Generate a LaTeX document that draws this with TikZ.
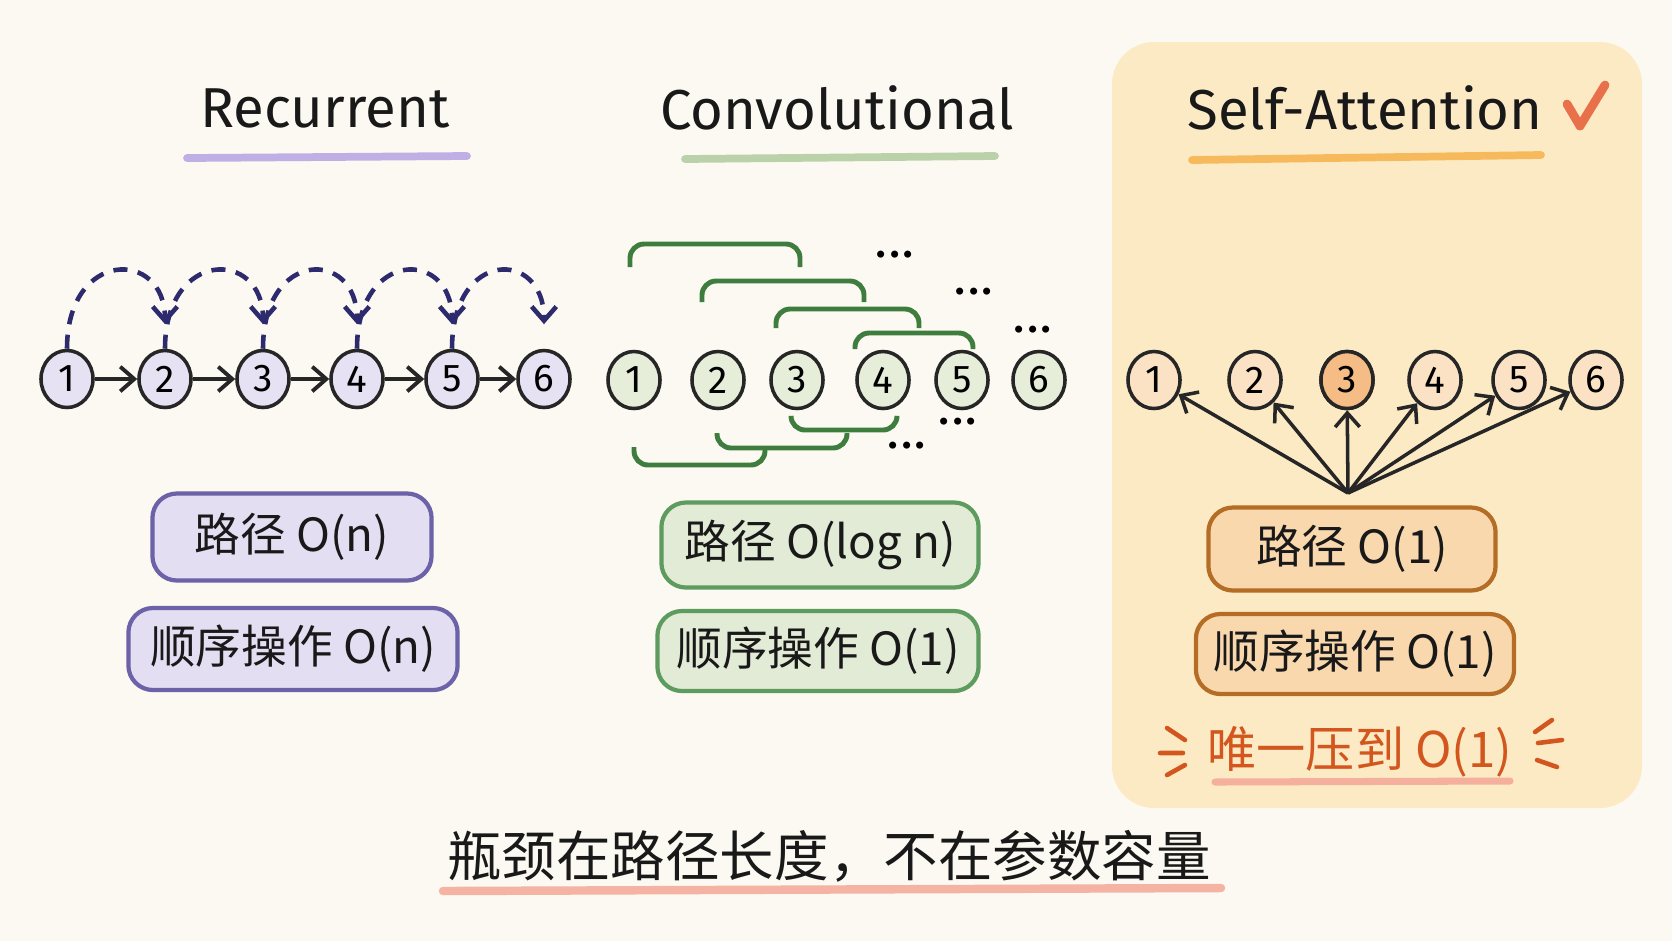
\documentclass[tikz,border=0pt]{standalone}
\usepackage{fontspec}
\setmainfont{Fira Sans}
\newfontfamily\cjk{Noto Sans CJK SC}
\usetikzlibrary{arrows.meta,shapes.geometric}

\definecolor{bgc}{HTML}{FBF9F1}
\definecolor{panelc}{HTML}{FCEAC5}
\definecolor{rnnfill}{HTML}{E7E1F4}
\definecolor{rnnbox}{HTML}{E4DEF3}
\definecolor{rnnline}{HTML}{6B62A8}
\definecolor{navy}{HTML}{2E2A6E}
\definecolor{cnnfill}{HTML}{E6EDD8}
\definecolor{cnnbox}{HTML}{E2EBD5}
\definecolor{cnnline}{HTML}{5E9B5E}
\definecolor{bracketc}{HTML}{3E7D3E}
\definecolor{safill}{HTML}{FCE2C4}
\definecolor{sahot}{HTML}{F6BC85}
\definecolor{sabox}{HTML}{F9D8AE}
\definecolor{saline}{HTML}{B56C25}
\definecolor{redtext}{HTML}{D2561E}
\definecolor{checkc}{HTML}{E8704A}
\definecolor{ulpurple}{HTML}{B6A3E2}
\definecolor{ulgreen}{HTML}{AFCB9D}
\definecolor{ulorange}{HTML}{F6B24A}
\definecolor{ulsalmon}{HTML}{F3A796}

\tikzset{
  tok/.style={ellipse, draw=black!85, line width=1pt, minimum width=0.52cm,
    minimum height=0.57cm, inner sep=0pt, font=\fontsize{11}{11}\selectfont},
  title/.style={font=\fontsize{16}{16}\selectfont, text=black!90},
  infobox/.style={rounded corners=7pt, line width=1.2pt, text=black!90,
    font=\cjk\fontsize{13}{13}\selectfont},
  ul/.style={line width=2.2pt, line cap=round, opacity=0.85},
  bracket/.style={draw=bracketc, line width=1.4pt, rounded corners=4pt},
  dots/.style={inner sep=0pt, font=\fontsize{11}{11}\bfseries},
}
\newcommand{\threedots}{·\kern1.2pt·\kern1.2pt·}

\begin{document}
\begin{tikzpicture}[x=0.01cm, y=-0.01cm, >={Straight Barb[length=4pt,width=7pt]}]
    % 背景与画布大小
    \fill[bgc] (0,0) rectangle (1672,941);
    \useasboundingbox (0,0) rectangle (1672,941);

    % Self-Attention 面板背景
    \fill[panelc, rounded corners=12pt] (1112,42) rectangle (1642,808);

    % 三个标题及下划线
    \node[title] (trec) at (325,108) {Recurrent};
    \node[title] (tconv) at (837,108) {Convolutional};
    \node[title] (tsa) at (1365,108) {Self-Attention};
    \draw[ul, ulpurple] (187,158) -- (467,156);
    \draw[ul, ulgreen] (685,159) -- (995,156);
    \draw[ul, ulorange] (1192,160) -- (1541,155);
    \draw[checkc, line width=2.5pt, line cap=round, line join=round]
        (1567,104) -- (1580,126) -- (1605,85);

    % 左侧：循环网络的节点
    \foreach \i/\x in {1/67,2/165,3/263,4/357,5/452,6/544}
        \node[tok, fill=rnnfill] (r\i) at (\x,379) {\i};
    \foreach \i/\j in {1/2,2/3,3/4,4/5,5/6} {
        \draw[->, line width=1.1pt, black!85] (r\i) -- (r\j);
        \draw[->, navy, line width=1.3pt, dash pattern=on 4pt off 3pt, shorten >=7pt]
            (r\i.north) .. controls +(0,-100) and +(0,-100) .. (r\j.north);
    }

    % 左侧的复杂度框
    \node[infobox, draw=rnnline, fill=rnnbox, minimum width=2.79cm, minimum height=0.87cm]
        (rpath) at (292,537) {路径 O(n)};
    \node[infobox, draw=rnnline, fill=rnnbox, minimum width=3.29cm, minimum height=0.82cm]
        (rseq) at (293,649) {顺序操作 O(n)};

    % 中间：卷积网络的节点
    \foreach \i/\x in {1/634,2/718,3/797,4/883,5/962,6/1039}
        \node[tok, fill=cnnfill] (c\i) at (\x,380) {\i};

    % 卷积窗口 (上方与下方的括号)
    \foreach \a/\b/\t/\e in {630/800/244/267, 702/864/281/302, 776/919/309/328, 855/973/333/349,
                             634/765/465/447, 717/847/448/433, 791/897/430/417}
        \draw[bracket] (\a,\e) -- (\a,\t) -- (\b,\t) -- (\b,\e);
    \node[dots] (d1) at (895,259) {\threedots};
    \node[dots] (d2) at (974,296) {\threedots};
    \node[dots] (d3) at (1033,334) {\threedots};
    \node[dots] (d4) at (958,426) {\threedots};
    \node[dots] (d5) at (907,450) {\threedots};

    % 中间的复杂度框
    \node[infobox, draw=cnnline, fill=cnnbox, minimum width=3.17cm, minimum height=0.85cm]
        (cpath) at (820,545) {路径 O(log n)};
    \node[infobox, draw=cnnline, fill=cnnbox, minimum width=3.21cm, minimum height=0.80cm]
        (cseq) at (818,651) {顺序操作 O(1)};

    % 右侧：自注意力的节点
    \foreach \i/\x in {1/1154,2/1255,3/1347,4/1435,5/1519,6/1596}
        \node[tok, fill=safill] (s\i) at (\x,380) {\i};
    \node[tok, fill=sahot] at (s3) {3};
    \coordinate (src) at (1348,493);
    \foreach \i in {1,...,6}
        \draw[->, line width=1pt, black!85] (src) -- (s\i);

    % 右侧的复杂度框
    \node[infobox, draw=saline, fill=sabox, minimum width=2.87cm, minimum height=0.83cm]
        (spath) at (1352,549) {路径 O(1)};
    \node[infobox, draw=saline, fill=sabox, minimum width=3.18cm, minimum height=0.80cm]
        (sseq) at (1355,654) {顺序操作 O(1)};

    % 强调文字
    \node[font=\cjk\fontsize{14}{14}\selectfont, text=redtext] (only) at (1360,752) {唯一压到 O(1)};
    \draw[ul, ulsalmon, line width=2pt] (1215,782) -- (1510,781);
    \draw[redtext, line width=1.3pt, line cap=round]
        (1167,728) -- (1185,740) (1160,753) -- (1183,753) (1167,775) -- (1185,765)
        (1535,732) -- (1552,720) (1538,743) -- (1562,740) (1537,760) -- (1557,767);

    % 底部结论
    \node[font=\cjk\fontsize{15.5}{15.5}\selectfont, text=black!90] (concl) at (829,856)
        {瓶颈在路径长度，不在参数容量};
    \draw[ul, ulsalmon, line width=2.4pt] (443,891) -- (1221,888);
\end{tikzpicture}
\end{document}
